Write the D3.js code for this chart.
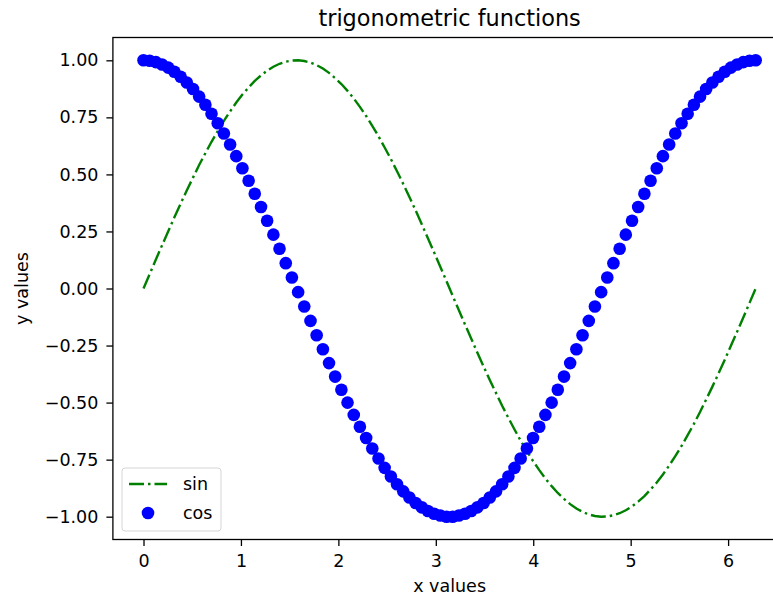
<!DOCTYPE html>
<html>
<head>
<meta charset="utf-8">
<script src="https://cdn.jsdelivr.net/npm/d3@7"></script>
<style>
  body { margin: 0; background: #fff; }
  text { font-family: "DejaVu Sans", sans-serif; }
</style>
</head>
<body>
<div id="chart"></div>
<script>
// x values (0 .. 2*pi, 100 samples)
const xValues = [
  0.000, 0.063, 0.127, 0.190, 0.254, 0.317, 0.381, 0.444, 0.508, 0.571,
  0.635, 0.698, 0.762, 0.825, 0.889, 0.952, 1.015, 1.079, 1.142, 1.206,
  1.269, 1.333, 1.396, 1.460, 1.523, 1.587, 1.650, 1.714, 1.777, 1.841,
  1.904, 1.967, 2.031, 2.094, 2.158, 2.221, 2.285, 2.348, 2.412, 2.475,
  2.539, 2.602, 2.666, 2.729, 2.793, 2.856, 2.919, 2.983, 3.046, 3.110,
  3.173, 3.237, 3.300, 3.364, 3.427, 3.491, 3.554, 3.618, 3.681, 3.745,
  3.808, 3.871, 3.935, 3.998, 4.062, 4.125, 4.189, 4.252, 4.316, 4.379,
  4.443, 4.506, 4.570, 4.633, 4.697, 4.760, 4.823, 4.887, 4.950, 5.014,
  5.077, 5.141, 5.204, 5.268, 5.331, 5.395, 5.458, 5.522, 5.585, 5.649,
  5.712, 5.775, 5.839, 5.902, 5.966, 6.029, 6.093, 6.156, 6.220, 6.283
];
// sin series
const sinValues = [
  0.000, 0.063, 0.127, 0.189, 0.251, 0.312, 0.372, 0.430, 0.486, 0.541,
  0.593, 0.643, 0.690, 0.735, 0.776, 0.815, 0.850, 0.881, 0.910, 0.934,
  0.955, 0.972, 0.985, 0.994, 0.999, 1.000, 0.997, 0.990, 0.979, 0.964,
  0.945, 0.922, 0.896, 0.866, 0.833, 0.796, 0.756, 0.713, 0.667, 0.618,
  0.567, 0.514, 0.458, 0.401, 0.342, 0.282, 0.220, 0.158, 0.095, 0.032,
  -0.032, -0.095, -0.158, -0.220, -0.282, -0.342, -0.401, -0.458, -0.514, -0.567,
  -0.618, -0.667, -0.713, -0.756, -0.796, -0.833, -0.866, -0.896, -0.922, -0.945,
  -0.964, -0.979, -0.990, -0.997, -1.000, -0.999, -0.994, -0.985, -0.972, -0.955,
  -0.934, -0.910, -0.881, -0.850, -0.815, -0.776, -0.735, -0.690, -0.643, -0.593,
  -0.541, -0.486, -0.430, -0.372, -0.312, -0.251, -0.189, -0.127, -0.063, -0.000
];
// cos series
const cosValues = [
  1.000, 0.998, 0.992, 0.982, 0.968, 0.950, 0.928, 0.903, 0.874, 0.841,
  0.805, 0.766, 0.724, 0.679, 0.631, 0.580, 0.527, 0.472, 0.415, 0.357,
  0.297, 0.236, 0.174, 0.111, 0.048, -0.016, -0.079, -0.142, -0.205, -0.266,
  -0.327, -0.386, -0.444, -0.500, -0.554, -0.606, -0.655, -0.701, -0.745, -0.786,
  -0.824, -0.858, -0.889, -0.916, -0.940, -0.959, -0.975, -0.987, -0.995, -1.000,
  -1.000, -0.995, -0.987, -0.975, -0.959, -0.940, -0.916, -0.889, -0.858, -0.824,
  -0.786, -0.745, -0.701, -0.655, -0.606, -0.554, -0.500, -0.444, -0.386, -0.327,
  -0.266, -0.205, -0.142, -0.079, -0.016, 0.048, 0.111, 0.174, 0.236, 0.297,
  0.357, 0.415, 0.472, 0.527, 0.580, 0.631, 0.679, 0.724, 0.766, 0.805,
  0.841, 0.874, 0.903, 0.928, 0.950, 0.968, 0.982, 0.992, 0.998, 1.000
];
const xTicks = [0, 1, 2, 3, 4, 5, 6];
const yTicks = [-1.0, -0.75, -0.5, -0.25, 0.0, 0.25, 0.5, 0.75, 1.0];

const width = 773, height = 597;
const pLeft = 112.9, pRight = 786.3, pTop = 37.5, pBottom = 539.5;

const svg = d3.select("#chart").append("svg")
  .attr("width", width)
  .attr("height", height);

const x = d3.scaleLinear().domain([-0.31416, 6.59734]).range([pLeft, pRight]);
const y = d3.scaleLinear().domain([-1.1, 1.1]).range([pBottom, pTop]);

const pts = xValues.map((v, i) => ({ x: v, s: sinValues[i], c: cosValues[i] }));

// plot area clip
svg.append("clipPath").attr("id", "clip")
  .append("rect")
  .attr("x", pLeft).attr("y", pTop)
  .attr("width", pRight - pLeft).attr("height", pBottom - pTop);

const plot = svg.append("g").attr("clip-path", "url(#clip)");

// sin line, dash-dot
plot.append("path")
  .datum(pts)
  .attr("fill", "none")
  .attr("stroke", "green")
  .attr("stroke-width", 2.4)
  .attr("stroke-dasharray", "15,4,2.5,4")
  .attr("d", d3.line().x(d => x(d.x)).y(d => y(d.s)));

// cos points
plot.append("g")
  .selectAll("circle")
  .data(pts)
  .join("circle")
  .attr("cx", d => x(d.x))
  .attr("cy", d => y(d.c))
  .attr("r", 6.3)
  .attr("fill", "blue");

// axes
const xAxis = svg.append("g")
  .attr("transform", `translate(0,${pBottom})`)
  .call(d3.axisBottom(x).tickValues(xTicks).tickFormat(d3.format("d"))
    .tickSize(6.5).tickPadding(9).tickSizeOuter(0));
const yAxis = svg.append("g")
  .attr("transform", `translate(${pLeft},0)`)
  .call(d3.axisLeft(y).tickValues(yTicks).tickFormat(d3.format(".2f"))
    .tickSize(6.5).tickPadding(8).tickSizeOuter(0));

[xAxis, yAxis].forEach(a => {
  a.select(".domain").remove();
  a.selectAll("line").attr("stroke", "#000").attr("stroke-width", 1.3);
  a.selectAll("text").attr("fill", "#000")
    .style("font-size", "17.5px")
    .style("font-family", "DejaVu Sans, sans-serif");
});

// spines
svg.append("rect")
  .attr("x", pLeft).attr("y", pTop)
  .attr("width", pRight - pLeft).attr("height", pBottom - pTop)
  .attr("fill", "none")
  .attr("stroke", "#000")
  .attr("stroke-width", 1.3);

// title and axis labels
svg.append("text")
  .attr("x", (pLeft + pRight) / 2)
  .attr("y", 26)
  .attr("text-anchor", "middle")
  .style("font-size", "22.4px")
  .text("trigonometric functions");

svg.append("text")
  .attr("x", (pLeft + pRight) / 2)
  .attr("y", 592)
  .attr("text-anchor", "middle")
  .style("font-size", "17.5px")
  .text("x values");

svg.append("text")
  .attr("transform", `translate(28,${(pTop + pBottom) / 2}) rotate(-90)`)
  .attr("text-anchor", "middle")
  .style("font-size", "17.5px")
  .text("y values");

// legend
const legend = svg.append("g");
legend.append("rect")
  .attr("x", 122).attr("y", 468)
  .attr("width", 99).attr("height", 63)
  .attr("rx", 3)
  .attr("fill", "#fff").attr("fill-opacity", 0.8)
  .attr("stroke", "#d6d6d6");

legend.append("line")
  .attr("x1", 129).attr("x2", 167)
  .attr("y1", 484).attr("y2", 484)
  .attr("stroke", "green")
  .attr("stroke-width", 2.4)
  .attr("stroke-dasharray", "15,4,2.5,4");
legend.append("circle")
  .attr("cx", 148).attr("cy", 513)
  .attr("r", 6.3)
  .attr("fill", "blue");

legend.selectAll("text.lab")
  .data(["sin", "cos"])
  .join("text")
  .attr("class", "lab")
  .attr("x", 183)
  .attr("y", (d, i) => 484 + i * 29)
  .attr("dy", "0.35em")
  .style("font-size", "17.5px")
  .text(d => d);
</script>
</body>
</html>
